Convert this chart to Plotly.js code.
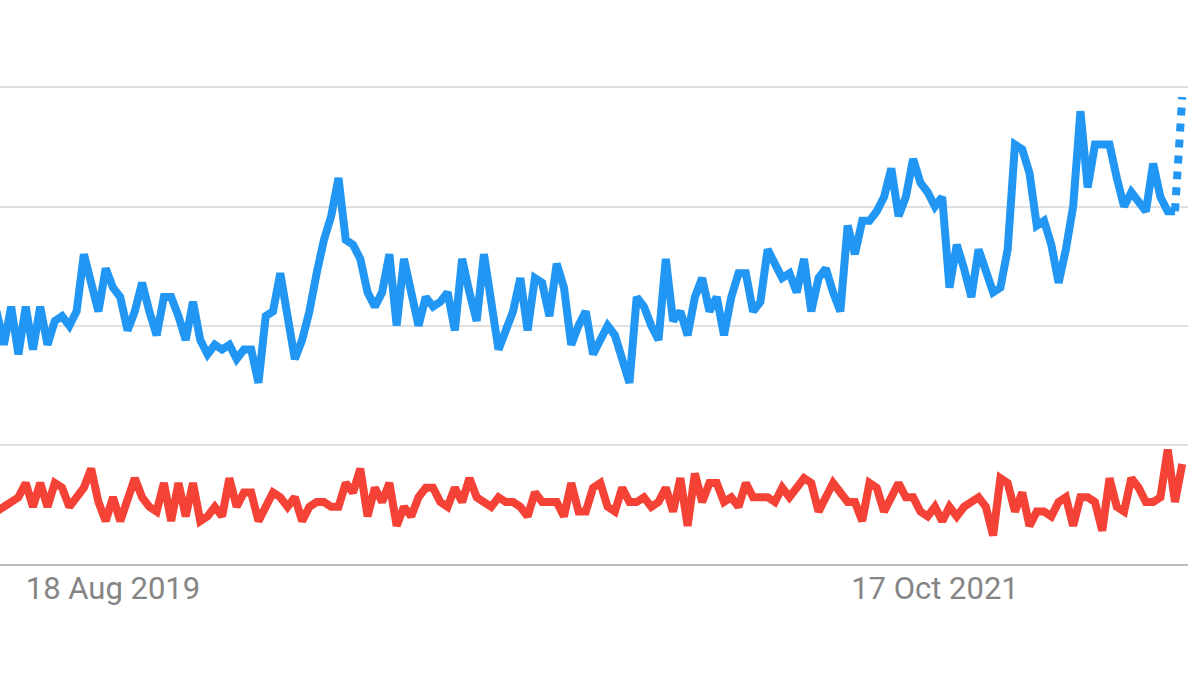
<!DOCTYPE html>
<html>
<head>
<meta charset="utf-8">
<script src="https://cdn.plot.ly/plotly-3.0.1.min.js"></script>
<style>
  html, body { margin: 0; padding: 0; background: #ffffff; }
  #chart { width: 1200px; height: 675px; }
</style>
</head>
<body>
<div id="chart"></div>
<script>
// Weekly series (Google Trends style interest, 0-100), first week starting 2019-04-28
const firstWeek = '2019-04-28';

const blueSeries = [
  53, 46, 54, 44, 54, 45, 54, 46, 51, 52,
  50, 53, 65, 59, 53, 62, 58, 56, 49, 53,
  59, 53, 48, 56, 56, 52, 47, 55, 47, 44,
  46, 45, 46, 43, 45, 45, 38, 52, 53, 61,
  52, 43, 47, 53, 61, 68, 73, 81, 68, 67,
  64, 57, 54, 57, 65, 50, 64, 57, 50, 56,
  54, 55, 57, 49, 64, 57, 51, 65, 55, 45,
  49, 53, 60, 49, 60, 59, 52, 63, 58, 46,
  50, 53, 44, 47, 50, 48, 43, 38, 56, 54,
  50, 47, 64, 51, 53, 48, 56, 60, 53, 56,
  48, 56, 61, 61, 53, 55, 66, 63, 60, 61,
  57, 64, 53, 60, 62, 57, 53, 71, 65, 72,
  72, 74, 77, 83, 73, 77, 85, 80, 78, 75,
  77, 58, 67, 62, 56, 66, 62, 57, 58, 66,
  88, 87, 82, 71, 72, 67, 59, 66, 75, 95,
  79, 88, 88, 88, 81, 75, 78, 76, 74, 84,
  77, 74, 74, 98
];

const redSeries = [
  11, 12, 13, 14, 17, 12, 17, 12, 17, 16,
  12, 14, 16, 20, 13, 9, 14, 9, 13, 18,
  14, 12, 11, 17, 9, 17, 10, 17, 9, 10,
  12, 10, 18, 12, 15, 15, 9, 12, 15, 14,
  12, 14, 9, 12, 13, 13, 12, 12, 17, 15,
  20, 10, 16, 13, 17, 8, 12, 10, 14, 16,
  16, 13, 12, 16, 13, 18, 14, 13, 12, 14,
  13, 13, 12, 10, 15, 13, 13, 13, 10, 17,
  11, 11, 16, 17, 12, 11, 16, 13, 13, 14,
  12, 13, 16, 11, 18, 8, 19, 13, 17, 17,
  13, 14, 12, 17, 14, 14, 14, 13, 16, 14,
  16, 18, 17, 11, 14, 17, 15, 13, 13, 9,
  17, 16, 11, 14, 17, 14, 14, 11, 10, 12,
  9, 12, 10, 12, 13, 14, 12, 6, 18, 17,
  11, 15, 8, 11, 11, 10, 13, 14, 8, 14,
  14, 13, 7, 18, 12, 11, 18, 16, 13, 13,
  14, 24, 13, 21
];

const tickDates = ['2019-08-18', '2021-10-17'];
const tickLabels = ['18 Aug 2019', '17 Oct 2021'];

// weekly date categories for the x axis
const weeks = [];
(function () {
  const t0 = Date.parse(firstWeek + 'T00:00:00Z');
  for (let i = 0; i < blueSeries.length; i++) {
    weeks.push(new Date(t0 + i * 7 * 86400000).toISOString().slice(0, 10));
  }
})();

const n = blueSeries.length;
const blueColor = '#2196f3';
const redColor = '#f44336';
const lw = 8;

const traces = [
  {
    x: weeks, y: redSeries, type: 'scatter', mode: 'lines',
    line: { color: redColor, width: lw }, hoverinfo: 'skip'
  },
  {
    x: weeks.slice(0, n - 1), y: blueSeries.slice(0, n - 1), type: 'scatter', mode: 'lines',
    line: { color: blueColor, width: lw }, hoverinfo: 'skip'
  },
  {
    x: weeks.slice(n - 2), y: blueSeries.slice(n - 2), type: 'scatter', mode: 'lines',
    line: { color: blueColor, width: lw, dash: 'dot' }, hoverinfo: 'skip'
  }
];

const layout = {
  width: 1200, height: 675,
  margin: { l: 0, r: 12, t: 85, b: 111, pad: 0 },
  paper_bgcolor: '#ffffff', plot_bgcolor: '#ffffff',
  showlegend: false,
  font: { family: 'Roboto, Arial, sans-serif', color: '#858585' },
  xaxis: {
    type: 'date',
    range: ['2019-05-01 06:30', '2022-06-17 12:45'],
    tickmode: 'array', tickvals: tickDates, ticktext: tickLabels,
    tickfont: { family: 'Roboto, Arial, sans-serif', size: 31, color: '#858585' },
    ticks: '', ticklabelstandoff: -4,
    showgrid: false, zeroline: false,
    showline: true, linecolor: '#bdbdbd', linewidth: 2,
    fixedrange: true
  },
  yaxis: {
    range: [0, 100.5], tickmode: 'array', tickvals: [25, 50, 75, 100],
    showticklabels: false, ticks: '',
    showgrid: true, gridcolor: '#e0e0e0', gridwidth: 2,
    zeroline: false, showline: false, fixedrange: true
  }
};

Plotly.newPlot('chart', traces, layout, { staticPlot: true, displayModeBar: false });
</script>
</body>
</html>
